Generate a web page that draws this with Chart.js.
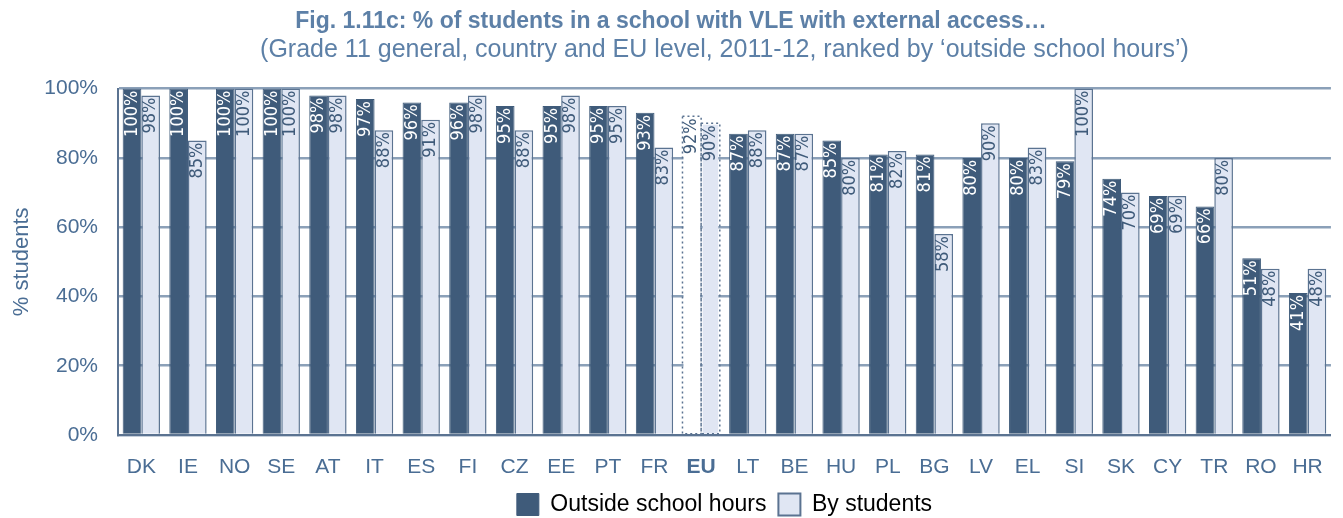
<!DOCTYPE html>
<html>
<head>
<meta charset="utf-8">
<script src="https://cdn.jsdelivr.net/npm/chart.js@4/dist/chart.umd.min.js"></script>
<style>
  html, body { margin: 0; padding: 0; background: #fff; }
  #wrap { width: 1343px; height: 518px; }
</style>
</head>
<body>
<div id="wrap"><canvas id="vle"></canvas></div>
<script>
// data
const countries   = ['DK','IE','NO','SE','AT','IT','ES','FI','CZ','EE','PT','FR','EU','LT','BE','HU','PL','BG','LV','EL','SI','SK','CY','TR','RO','HR'];
const outsideHrs  = [100,100,100,100,98,97,96,96,95,95,95,93,92,87,87,85,81,81,80,80,79,74,69,66,51,41];
const byStudents  = [98,85,100,100,98,88,91,98,88,98,95,83,90,88,87,80,82,58,90,83,100,70,69,80,48,48];
const yTicks      = [0,20,40,60,80,100];

const DARK   = '#3f5b7a';
const LIGHT  = '#e0e6f3';
const EDGE   = '#5b7391';
const TXT    = '#4a6d94';
const FONT   = '"Liberation Sans", Arial, sans-serif';
const EU_IDX = countries.indexOf('EU');

// draws the value labels inside the bars + dotted EU bars
const barLabels = {
  id: 'barLabels',
  afterDatasetsDraw(chart) {
    const ctx = chart.ctx;
    chart.data.datasets.forEach((ds, di) => {
      const meta = chart.getDatasetMeta(di);
      meta.data.forEach((bar, i) => {
        const half = bar.width / 2;
        if (i === EU_IDX) {
          ctx.save();
          ctx.setLineDash([2, 3]);
          ctx.strokeStyle = EDGE;
          ctx.lineWidth = 1.5;
          ctx.strokeRect(bar.x - half, bar.y, bar.width, bar.base - bar.y);
          ctx.restore();
        }
        ctx.save();
        ctx.translate(bar.x, bar.y + 2);
        ctx.rotate(-Math.PI / 2);
        ctx.textAlign = 'right';
        ctx.textBaseline = 'middle';
        ctx.font = '18px "Liberation Sans Narrow", "DejaVu Sans Condensed", sans-serif';
        ctx.fillStyle = (di === 0 && i !== EU_IDX) ? '#ffffff' : DARK;
        ctx.fillText(ds.data[i] + '%', 0, 0);
        ctx.restore();
      });
    });
  }
};

const cfg = {
  type: 'bar',
  data: {
    labels: countries,
    datasets: [{
      label: 'Outside school hours',
      data: outsideHrs,
      backgroundColor: countries.map((c, i) => i === EU_IDX ? '#ffffff' : DARK),
      borderColor: countries.map((c, i) => i === EU_IDX ? 'rgba(0,0,0,0)' : DARK),
      borderWidth: 1,
      categoryPercentage: 0.8,
      barPercentage: 1.0
    }, {
      label: 'By students',
      data: byStudents,
      backgroundColor: LIGHT,
      borderColor: countries.map((c, i) => i === EU_IDX ? 'rgba(0,0,0,0)' : EDGE),
      borderWidth: 1.5,
      categoryPercentage: 0.8,
      barPercentage: 1.0
    }]
  },
  options: {
    responsive: true,
    maintainAspectRatio: false,
    animation: false,
    layout: { padding: { left: 9, right: 10, top: 0, bottom: -8 } },
    scales: {
      x: {
        grid: { display: false, drawTicks: false },
        border: { color: EDGE, width: 2 },
        afterFit: (axis) => { axis.height = 46; },
        ticks: {
          color: TXT,
          padding: 20,
          maxRotation: 0,
          font: (c) => ({
            family: FONT,
            size: 21,
            weight: c.index === EU_IDX ? 'bold' : 'normal'
          })
        }
      },
      y: {
        min: 0,
        max: 100,
        afterBuildTicks: (axis) => { axis.ticks = yTicks.map(v => ({ value: v })); },
        afterFit: (axis) => { axis.width = 109; },
        grid: { color: '#8ba0b8', lineWidth: 2.5, drawTicks: false },
        border: { color: EDGE, width: 2 },
        ticks: {
          color: TXT,
          padding: 20,
          font: { family: FONT, size: 21 },
          callback: (v) => v + '%'
        },
        title: {
          display: true,
          text: '% students',
          color: TXT,
          padding: { top: 0, bottom: 0 },
          font: { family: FONT, size: 22 }
        }
      }
    },
    plugins: {
      title: {
        display: true,
        text: 'Fig. 1.11c: % of students in a school with VLE with external access…',
        color: '#5d80a7',
        padding: { top: 8, bottom: 0 },
        font: { family: FONT, size: 23, weight: 'bold' }
      },
      subtitle: {
        display: true,
        fullSize: false,
        text: '(Grade 11 general, country and EU level, 2011-12, ranked by ‘outside school hours’)',
        color: '#5d80a7',
        padding: { bottom: 23 },
        font: { family: FONT, size: 25 }
      },
      legend: {
        position: 'bottom',
        fullSize: false,
        labels: {
          color: TXT,
          boxWidth: 22,
          boxHeight: 22,
          padding: 12,
          font: { family: FONT, size: 23, lineHeight: 1 },
          generateLabels: () => [
            { text: 'Outside school hours', fillStyle: DARK, strokeStyle: DARK, lineWidth: 1, datasetIndex: 0 },
            { text: 'By students', fillStyle: LIGHT, strokeStyle: EDGE, lineWidth: 2, datasetIndex: 1 }
          ]
        }
      },
      tooltip: { enabled: false }
    }
  },
  plugins: [barLabels]
};

new Chart(document.getElementById('vle'), cfg);
</script>
</body>
</html>
